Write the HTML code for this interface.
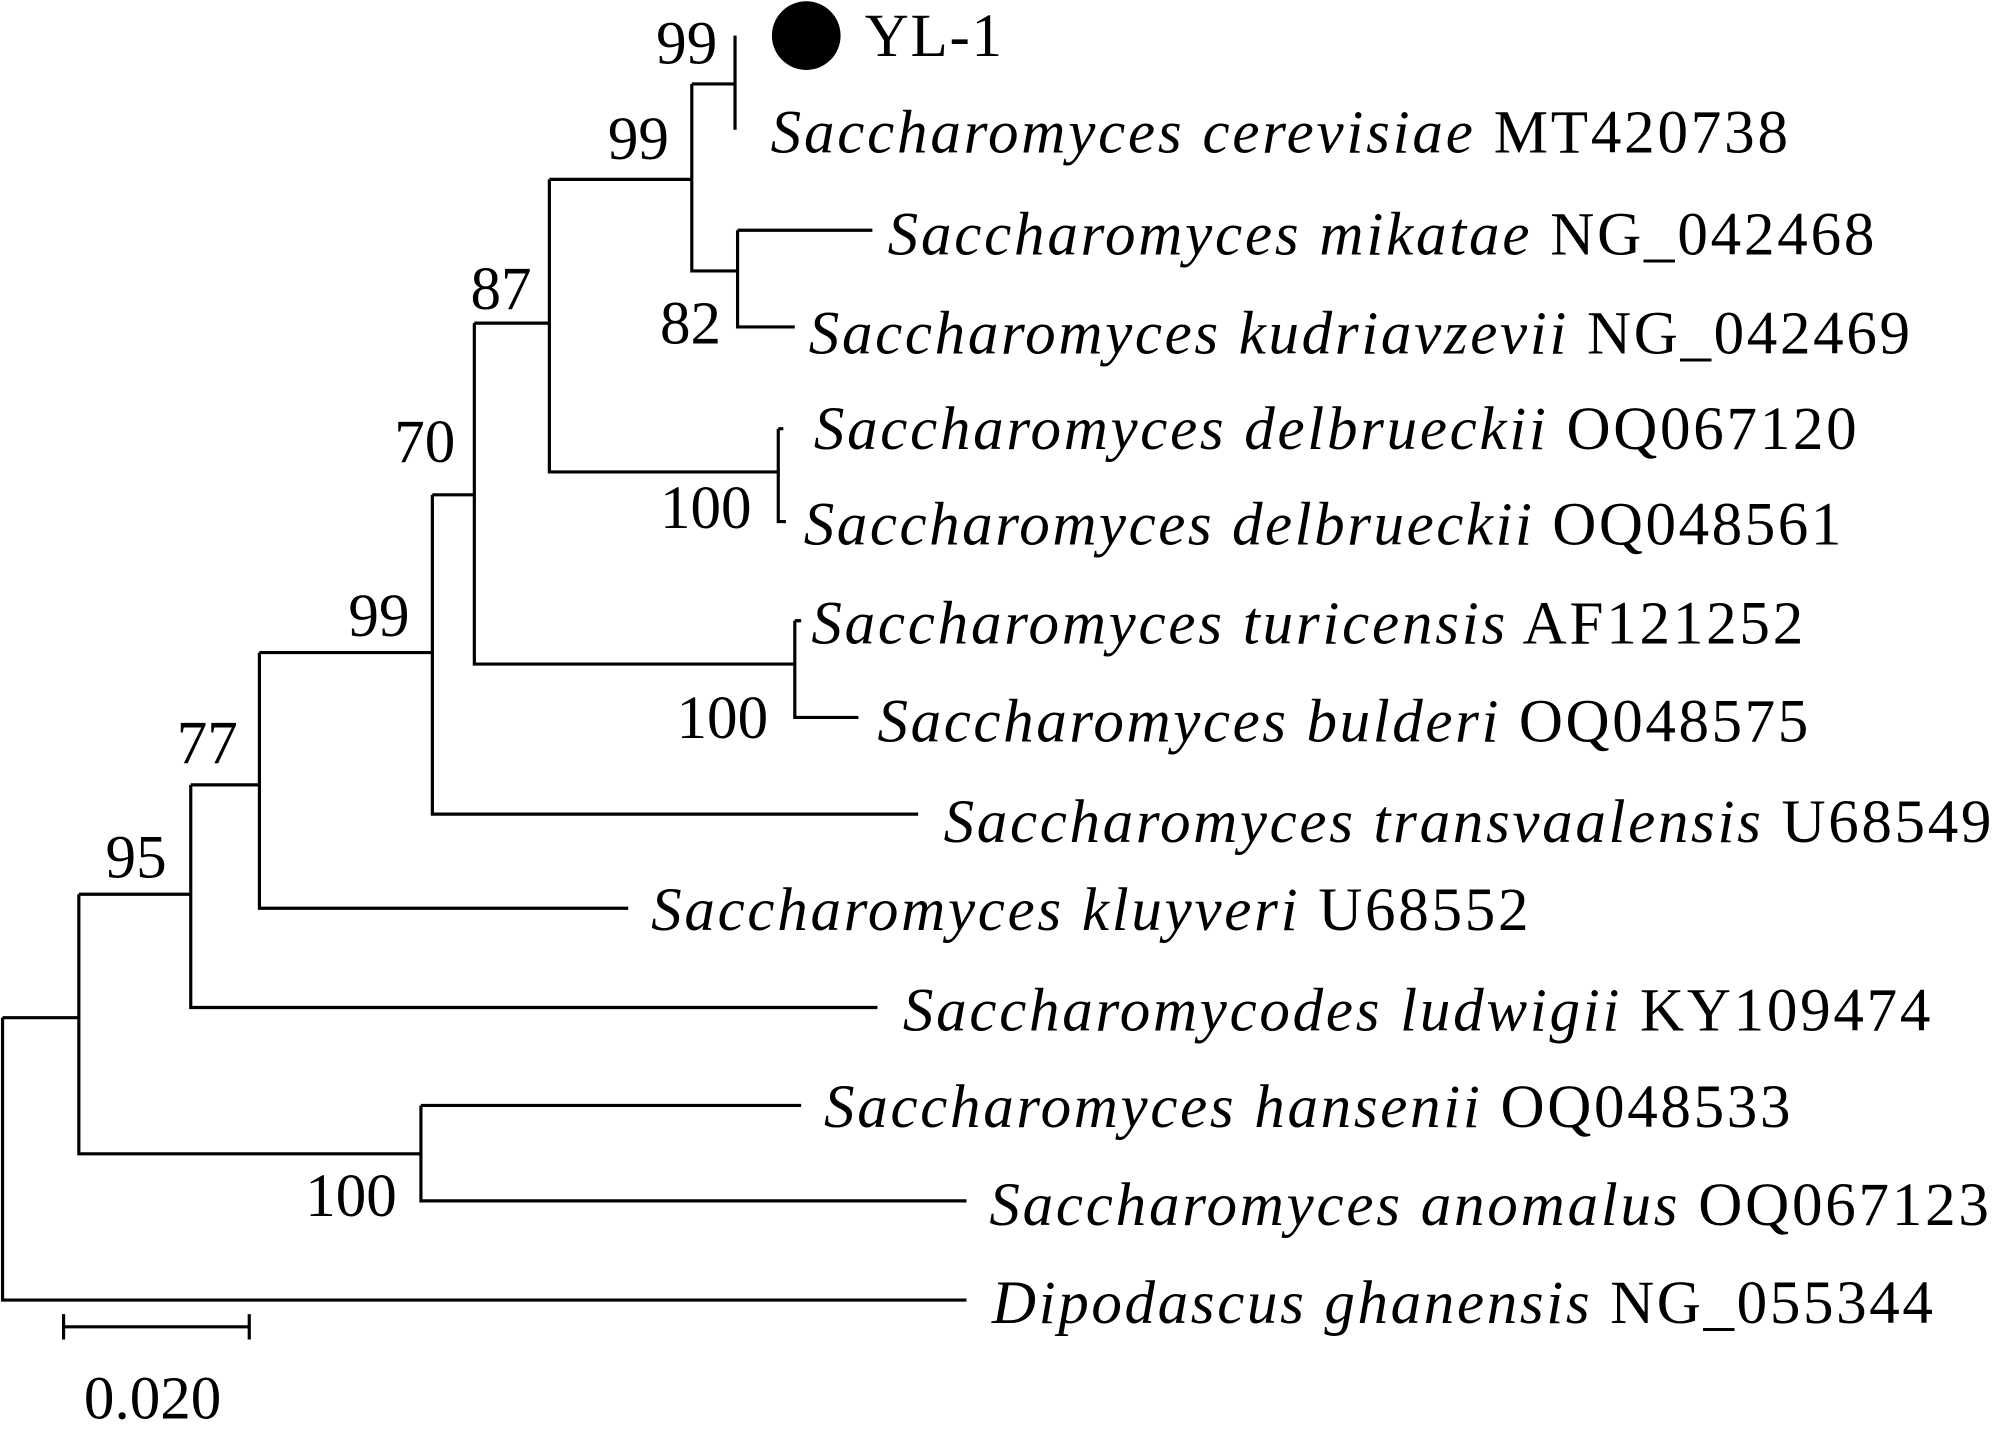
<!DOCTYPE html>
<html><head><meta charset="utf-8"><style>
html,body{margin:0;padding:0;background:#fff;}
svg{display:block}
text{font-family:"Liberation Serif",serif;font-size:48px;fill:#000}
.i{font-style:italic}
</style></head><body>
<svg width="1994" height="1440" viewBox="0 0 1568 1132" preserveAspectRatio="none" xmlns="http://www.w3.org/2000/svg">
<g stroke="#000" stroke-width="2.5" fill="none">
<path d="M2 800V1022H760M2 800H62"/>
<path d="M62 703V907H331M62 703H150"/>
<path d="M331 869V944H760M331 869H630"/>
<path d="M150 617V792H690M150 617H204"/>
<path d="M204 513V714H494M204 513H340"/>
<path d="M340 389V640H722M340 389H373"/>
<path d="M373 254V522H625M373 254H432"/>
<path d="M625 488V564H675M625 488H630"/>
<path d="M432 141V371H612M432 141H544"/>
<path d="M612 337V410H618M612 337H616"/>
<path d="M544 66V213H580M544 66H578"/>
<path d="M580 181V257H625M580 181H686"/>
<path d="M578 28V102"/>
<path d="M50 1043H196M50 1033V1053M196 1033V1053"/>
</g>
<circle cx="634" cy="28" r="27" fill="#000"/>
<text x="680" y="44" textLength="108">YL-1</text>
<text x="606" y="120" textLength="800"><tspan class="i">Saccharomyces cerevisiae</tspan> MT420738</text>
<text x="698" y="200" textLength="776"><tspan class="i">Saccharomyces mikatae</tspan> NG_042468</text>
<text x="636" y="278" textLength="866"><tspan class="i">Saccharomyces kudriavzevii</tspan> NG_042469</text>
<text x="640" y="353" textLength="820"><tspan class="i">Saccharomyces delbrueckii</tspan> OQ067120</text>
<text x="632" y="428" textLength="816"><tspan class="i">Saccharomyces delbrueckii</tspan> OQ048561</text>
<text x="638" y="506" textLength="780"><tspan class="i">Saccharomyces turicensis</tspan> AF121252</text>
<text x="690" y="583" textLength="732"><tspan class="i">Saccharomyces bulderi</tspan> OQ048575</text>
<text x="742" y="662" textLength="824"><tspan class="i">Saccharomyces transvaalensis</tspan> U68549</text>
<text x="512" y="731" textLength="690"><tspan class="i">Saccharomyces kluyveri</tspan> U68552</text>
<text x="710" y="810" textLength="808"><tspan class="i">Saccharomycodes ludwigii</tspan> KY109474</text>
<text x="648" y="886" textLength="760"><tspan class="i">Saccharomyces hansenii</tspan> OQ048533</text>
<text x="778" y="963" textLength="786"><tspan class="i">Saccharomyces anomalus</tspan> OQ067123</text>
<text x="780" y="1040" textLength="740"><tspan class="i">Dipodascus ghanensis</tspan> NG_055344</text>
<text x="516" y="50">99</text>
<text x="478" y="125">99</text>
<text x="370" y="243">87</text>
<text x="519" y="270">82</text>
<text x="310" y="363">70</text>
<text x="519" y="415">100</text>
<text x="274" y="500">99</text>
<text x="532" y="580">100</text>
<text x="139" y="600">77</text>
<text x="83" y="690">95</text>
<text x="240" y="956">100</text>
<text x="66" y="1115">0.020</text>
</svg>
</body></html>
